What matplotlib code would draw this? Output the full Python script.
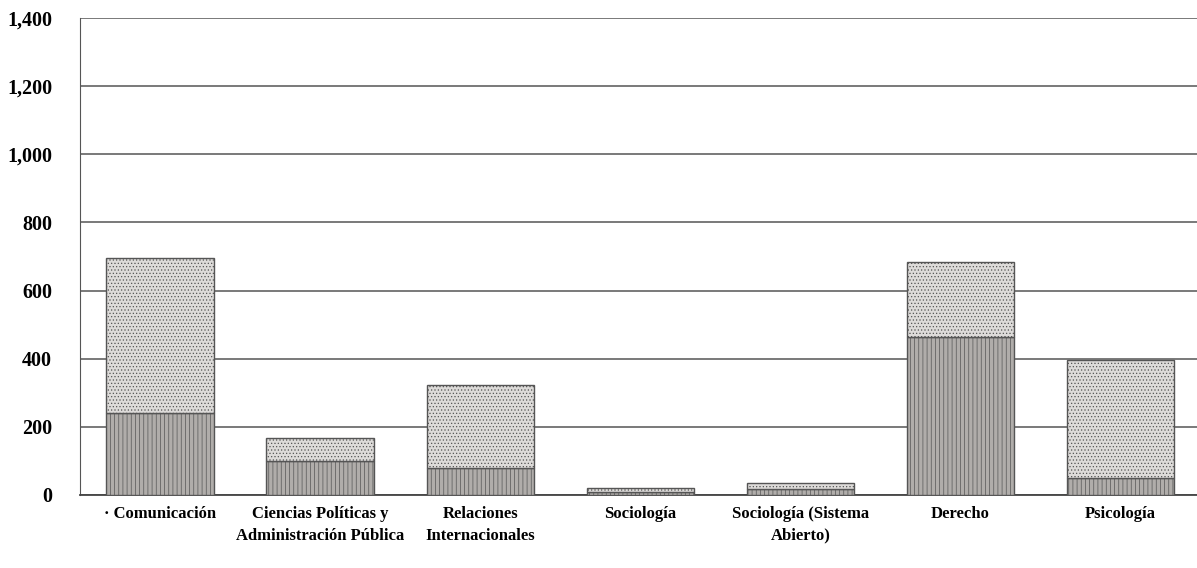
import numpy as np
import matplotlib.pyplot as plt
from matplotlib.ticker import FuncFormatter

# Data
categories = [
    "· Comunicación",
    "Ciencias Políticas y\nAdministración Pública",
    "Relaciones\nInternacionales",
    "Sociología",
    "Sociología (Sistema\nAbierto)",
    "Derecho",
    "Psicología",
]
lower_values = [240, 100, 80, 8, 18, 465, 50]
totals = [695, 167, 323, 20, 35, 685, 397]
upper_values = [t - l for t, l in zip(totals, lower_values)]
y_ticks = [0, 200, 400, 600, 800, 1000, 1200, 1400]

plt.rcParams['font.family'] = ['Liberation Serif', 'DejaVu Serif']
plt.rcParams['hatch.linewidth'] = 0.5

fig = plt.figure(figsize=(11.97, 5.68), dpi=100)
ax = fig.add_axes([80 / 1197, 73 / 568, 1.0 - 80 / 1197 + 0.003, 477 / 568])

x = np.arange(len(categories))
width = 0.67

plt.rcParams['hatch.color'] = '#9a9693'
ax.bar(x, lower_values, width, color='#b0adaa', edgecolor='#555555',
       linewidth=1.0, hatch='||||', zorder=3)
plt.rcParams['hatch.color'] = '#858585'
ax.bar(x, upper_values, width, bottom=lower_values, color='#dddbd9',
       edgecolor='#555555', linewidth=1.0, hatch='.....', zorder=3)

ax.set_xlim(-0.5, 6.5)
ax.set_ylim(0, 1400)
ax.set_yticks(y_ticks)
ax.yaxis.set_major_formatter(FuncFormatter(lambda v, p: f"{int(v):,}"))
ax.grid(axis='y', color='#555555', linewidth=1.1, zorder=0)
ax.set_axisbelow(True)

for s in ['top', 'right']:
    ax.spines[s].set_visible(False)
ax.spines['left'].set_color('#555555')
ax.spines['bottom'].set_color('#444444')
ax.spines['bottom'].set_linewidth(1.3)

ax.tick_params(axis='y', length=0, pad=20, labelsize=14.5)
ax.tick_params(axis='x', length=0, pad=8)
ax.set_xticks(x)
ax.set_xticklabels(categories, fontsize=12, fontweight='bold',
                   linespacing=1.45, va='top')
for lbl in ax.get_yticklabels():
    lbl.set_fontweight('bold')

fig.savefig('out.png', dpi=100)
